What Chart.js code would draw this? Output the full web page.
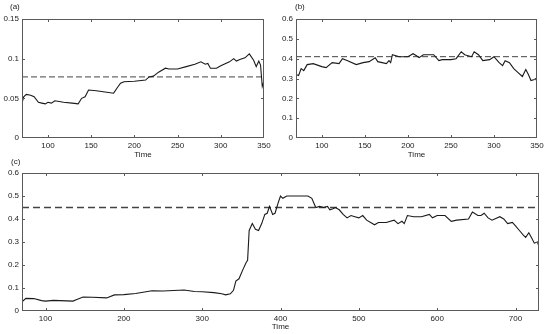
<!DOCTYPE html>
<html><head><meta charset="utf-8">
<script src="https://cdn.jsdelivr.net/npm/chart.js@4.4.0/dist/chart.umd.min.js"></script>
<style>
html,body{margin:0;padding:0;background:#fff;width:550px;height:334px;overflow:hidden;}
canvas{position:absolute;}
.lab{position:absolute;font:8px "Liberation Sans",Arial,sans-serif;color:#222;}
</style></head><body>
<canvas id="ca" width="275" height="162" style="left:0;top:0"></canvas>
<canvas id="cb" width="276" height="162" style="left:274px;top:0"></canvas>
<canvas id="cc" width="550" height="174" style="left:0;top:160px"></canvas>
<div class="lab" style="left:10px;top:2px">(a)</div>
<div class="lab" style="left:295px;top:2px">(b)</div>
<div class="lab" style="left:11px;top:157px">(c)</div>
<script>
// ---- data ----
const timeA = [70,72,75,80,84,89,93,97,100,104,108,118,128,135,139,143,147,156,166,176,180,184,188,200,213,217,222,228,236,240,250,260,270,277,282,285,288,295,300,310,315,318,322,328,333,338,341,344,346,348,350];
const valA  = [0.044,0.052,0.055,0.054,0.052,0.045,0.044,0.043,0.045,0.044,0.047,0.045,0.044,0.043,0.050,0.052,0.0605,0.0595,0.058,0.0565,0.063,0.069,0.071,0.0716,0.073,0.077,0.078,0.083,0.088,0.087,0.087,0.090,0.093,0.096,0.093,0.094,0.088,0.088,0.091,0.096,0.100,0.097,0.099,0.101,0.106,0.098,0.090,0.097,0.092,0.065,0.072];
const meanA = 0.077;

const timeB = [70,73,76,79,83,90,100,105,112,120,124,130,140,148,155,162,165,170,175,178,180,182,190,200,206,210,213,218,230,236,240,250,256,262,266,270,274,277,282,287,295,300,306,310,313,318,323,328,333,337,340,343,347,349,350];
const valB  = [0.32,0.315,0.35,0.34,0.37,0.375,0.36,0.355,0.38,0.375,0.40,0.39,0.37,0.38,0.385,0.405,0.385,0.38,0.375,0.39,0.38,0.42,0.41,0.41,0.425,0.415,0.405,0.42,0.42,0.39,0.395,0.395,0.40,0.435,0.42,0.415,0.41,0.435,0.42,0.39,0.395,0.41,0.38,0.365,0.39,0.38,0.35,0.33,0.31,0.345,0.32,0.29,0.295,0.30,0.27];
const meanB = 0.41;

const timeC = [70,75,85,95,100,110,135,140,148,160,178,188,200,215,236,250,277,290,300,315,325,330,336,340,343,347,352,356,358,360,364,368,372,376,380,383,386,390,393,397,400,403,408,420,435,440,445,450,455,460,463,467,470,475,480,485,490,495,500,505,510,520,525,535,545,550,555,558,562,570,580,590,594,600,610,618,625,640,645,652,656,660,665,670,680,685,690,696,700,705,710,713,717,721,724,728,730];
const valC  = [0.040,0.055,0.054,0.045,0.043,0.046,0.043,0.050,0.061,0.060,0.057,0.070,0.071,0.076,0.088,0.087,0.091,0.085,0.084,0.080,0.075,0.070,0.075,0.090,0.130,0.140,0.180,0.210,0.220,0.350,0.380,0.355,0.350,0.380,0.420,0.425,0.455,0.420,0.425,0.470,0.500,0.490,0.500,0.500,0.500,0.490,0.450,0.455,0.450,0.455,0.440,0.445,0.450,0.440,0.420,0.405,0.415,0.410,0.405,0.415,0.395,0.375,0.385,0.385,0.395,0.380,0.390,0.380,0.415,0.410,0.410,0.420,0.405,0.415,0.415,0.390,0.395,0.400,0.430,0.415,0.415,0.425,0.405,0.395,0.410,0.400,0.380,0.385,0.370,0.350,0.330,0.320,0.340,0.315,0.295,0.300,0.280];
const meanC = 0.45;

const xTicksAB = [100,150,200,250,300,350];
const xTicksC = [100,200,300,400,500,600,700];
const yTicksA = [0,0.05,0.1,0.15];
const yTicksBC = [0,0.1,0.2,0.3,0.4,0.5,0.6];

// ---- drawing ----
const FONT = {family:'"Liberation Sans", Arial, sans-serif', size:8};
const frame = {
  id:'frame',
  afterDatasetsDraw(chart){
    const {ctx, chartArea:a, scales:{x,y}} = chart;
    ctx.save();
    ctx.strokeStyle = '#5a5a5a'; ctx.lineWidth = 1;
    ctx.strokeRect(Math.round(a.left)+0.5, Math.round(a.top)+0.5, Math.round(a.right-a.left)-1, Math.round(a.bottom-a.top)-1);
    ctx.beginPath();
    x.ticks.forEach(t=>{
      const p = Math.round(x.getPixelForValue(t.value))+0.5;
      if (p < a.left+2 || p > a.right-2) return;
      ctx.moveTo(p,a.bottom); ctx.lineTo(p,a.bottom-3);
      ctx.moveTo(p,a.top); ctx.lineTo(p,a.top+3);
    });
    y.ticks.forEach(t=>{
      const p = Math.round(y.getPixelForValue(t.value))+0.5;
      if (p < a.top+2 || p > a.bottom-2) return;
      ctx.moveTo(a.left,p); ctx.lineTo(a.left+3,p);
      ctx.moveTo(a.right,p); ctx.lineTo(a.right-3,p);
    });
    ctx.stroke();
    ctx.restore();
  }
};

function make(id, times, vals, mean, xmin, xmax, ymax, xt, yt, pad, xH, tickPadX, titlePad, dash){
  const pts = times.map((t,i)=>({x:t, y:vals[i]}));
  new Chart(document.getElementById(id), {
    type:'line',
    data:{datasets:[
      {data:pts, borderColor:'#1a1a1a', borderWidth:1.1, pointRadius:0, tension:0, fill:false},
      {data:[{x:xmin,y:mean},{x:xmax,y:mean}], borderColor:'#444', borderWidth:dash.w, borderDash:dash.d, pointRadius:0, fill:false}
    ]},
    options:{
      responsive:false, animation:false, devicePixelRatio:1,
      layout:{padding:pad},
      plugins:{legend:{display:false}, tooltip:{enabled:false}},
      scales:{
        x:{type:'linear', min:xmin, max:xmax,
          afterBuildTicks:s=>{s.ticks = xt.map(v=>({value:v}));},
          afterFit:s=>{s.height = xH; s.paddingLeft=0; s.paddingRight=0;},
          grid:{display:false, drawTicks:false}, border:{display:false},
          ticks:{font:FONT, color:'#222', padding:tickPadX, maxRotation:0, autoSkip:false},
          title:{display:true, text:'Time', font:FONT, color:'#222', padding:{top:0,bottom:titlePad}}
        },
        y:{type:'linear', min:0, max:ymax,
          afterBuildTicks:s=>{s.ticks = yt.map(v=>({value:v}));},
          afterFit:s=>{s.width = 22; s.paddingTop=0; s.paddingBottom=0;},
          grid:{display:false, drawTicks:false}, border:{display:false},
          ticks:{font:FONT, color:'#222', padding:3, autoSkip:false, callback:v=>String(v)}
        }
      }
    },
    plugins:[frame]
  });
}
make('ca', timeA, valA, meanA, 70, 350, 0.15, xTicksAB, yTicksA, {top:19,right:11,left:0,bottom:0}, 24, 3, 2.2, {w:1,d:[6,3]});
make('cb', timeB, valB, meanB, 70, 350, 0.6, xTicksAB, yTicksBC, {top:19,right:13,left:0,bottom:0}, 24, 3, 2.2, {w:1,d:[6,3]});
make('cc', timeC, valC, meanC, 70, 730, 0.6, xTicksC, yTicksBC, {top:13,right:11,left:0,bottom:0}, 23, 2.5, 2.5, {w:1.3,d:[7,4]});
</script>
</body></html>
